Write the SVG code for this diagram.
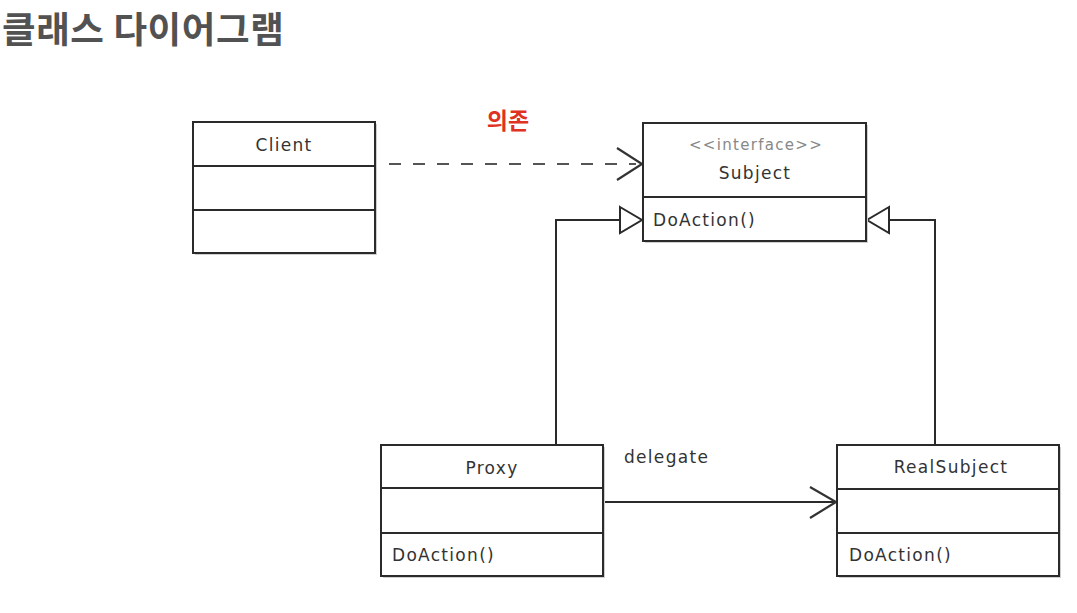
<svg xmlns="http://www.w3.org/2000/svg" width="1077" height="613" viewBox="0 0 1077 613">
<style>
.box{fill:#fff;stroke:#2a2a2a;stroke-width:2}
.shadow{fill:#cfcfcf}
.div{stroke:#2a2a2a;stroke-width:2}
.t{font-family:"DejaVu Sans",sans-serif;font-size:17px;letter-spacing:1.3px;fill:#333}
.c{text-anchor:middle}
.st{font-size:15px;fill:#888}
.ln{fill:none;stroke:#2a2a2a;stroke-width:2}
.dash{fill:none;stroke:#555;stroke-width:2.2;stroke-dasharray:12 12}
.open{fill:none;stroke:#333;stroke-width:2.2}
.tri{fill:#fff;stroke:#2a2a2a;stroke-width:2}
</style>
<rect width="1077" height="613" fill="#fff"/>
<text x="2" y="42.5" font-family="'Noto Sans CJK KR','Noto Sans',sans-serif" font-size="36.5" font-weight="bold" letter-spacing="0.6" fill="#525252">클래스 다이어그램</text>
<text id="label-dep" x="508" y="129" text-anchor="middle" font-family="'Noto Sans CJK KR',sans-serif" font-size="23" font-weight="bold" fill="#e03222">의존</text>

<g id="connectors">
  <path class="dash" d="M389 164 H636"/>
  <path class="open" d="M617 148 L642 164 L617 180"/>
  <path class="ln" d="M556 445 V220 H620"/>
  <path class="tri" d="M620 207 L642 220 L620 233 Z"/>
  <path class="ln" d="M935 445 V220 H889"/>
  <path class="tri" d="M889 207 L867 220 L889 233 Z"/>
  <path class="ln" d="M603 502 H836"/>
  <path class="open" d="M810 487 L836 502 L810 518"/>
  <text class="t" x="624" y="463">delegate</text>
</g>

<g id="client">
  <rect class="shadow" x="195" y="124" width="182" height="131"/>
  <rect class="box" x="193" y="122" width="182" height="131"/>
  <line class="div" x1="193" y1="166" x2="375" y2="166"/>
  <line class="div" x1="193" y1="210" x2="375" y2="210"/>
  <text class="t c" x="284" y="151">Client</text>
</g>

<g id="subject">
  <rect class="shadow" x="645" y="125" width="223" height="118"/>
  <rect class="box" x="643" y="123" width="223" height="118"/>
  <line class="div" x1="643" y1="197" x2="866" y2="197"/>
  <text class="t c st" x="756" y="150">&lt;&lt;interface&gt;&gt;</text>
  <text class="t c" x="755" y="179">Subject</text>
  <text class="t" x="653" y="226">DoAction()</text>
</g>

<g id="proxy">
  <rect class="shadow" x="383" y="447" width="222" height="131"/>
  <rect class="box" x="381" y="445" width="222" height="131"/>
  <line class="div" x1="381" y1="488" x2="603" y2="488"/>
  <line class="div" x1="381" y1="533" x2="603" y2="533"/>
  <text class="t c" x="492" y="474">Proxy</text>
  <text class="t" x="392" y="561">DoAction()</text>
</g>

<g id="realsubject">
  <rect class="shadow" x="839" y="447" width="222" height="131"/>
  <rect class="box" x="837" y="445" width="222" height="131"/>
  <line class="div" x1="837" y1="489" x2="1059" y2="489"/>
  <line class="div" x1="837" y1="533" x2="1059" y2="533"/>
  <text class="t c" x="951" y="473">RealSubject</text>
  <text class="t" x="849" y="561">DoAction()</text>
</g>
</svg>
